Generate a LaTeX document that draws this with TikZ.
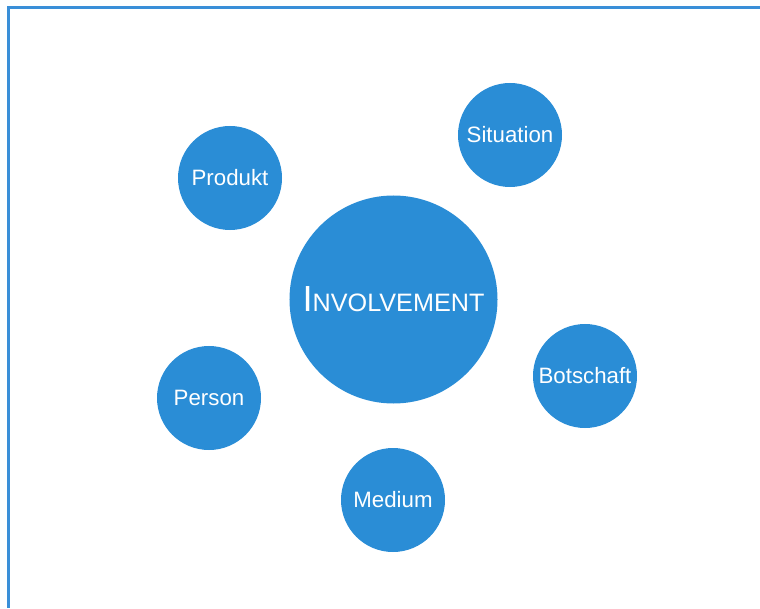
\documentclass[tikz,border=0pt]{standalone}
\usepackage{fontspec}
\setmainfont{Liberation Sans}
\usepackage{xcolor}
\usepackage{tikz}
\definecolor{bubbleblue}{RGB}{42,141,214}
\definecolor{frameblue}{RGB}{58,143,216}

\begin{document}
\begin{tikzpicture}[x=0.03cm,y=0.03cm]
            \tikzset{
                bubble/.style={
                    circle,
                    fill=bubbleblue,
                    inner sep=0pt,
                    minimum size=3.12cm,
                    text=white,
                    font=\fontsize{19}{21}\selectfont,
                    align=center
                },
                bigbubble/.style={
                    bubble,
                    minimum size=6.24cm
                }
            }

            \useasboundingbox (0,0) rectangle (760,608);

            % Frame (open to the right and bottom)
            \draw[frameblue,line width=2.2pt] (760,600.5) -- (8.5,600.5) -- (8.5,0);

            % Centre
            \node[bigbubble] (inv) at (393.5,308.5)
                {{\fontsize{31}{32}\selectfont I}{\fontsize{21.5}{22}\selectfont NVOLVEMENT}};

            % Factors
            \node[bubble] (produkt) at (230,430) {Produkt};
            \node[bubble] (situation) at (510,473) {Situation};
            \node[bubble] (botschaft) at (585,232) {Botschaft};
            \node[bubble] (person) at (209,210) {Person};
            \node[bubble] (medium) at (393,108) {Medium};
        \end{tikzpicture}
\end{document}
